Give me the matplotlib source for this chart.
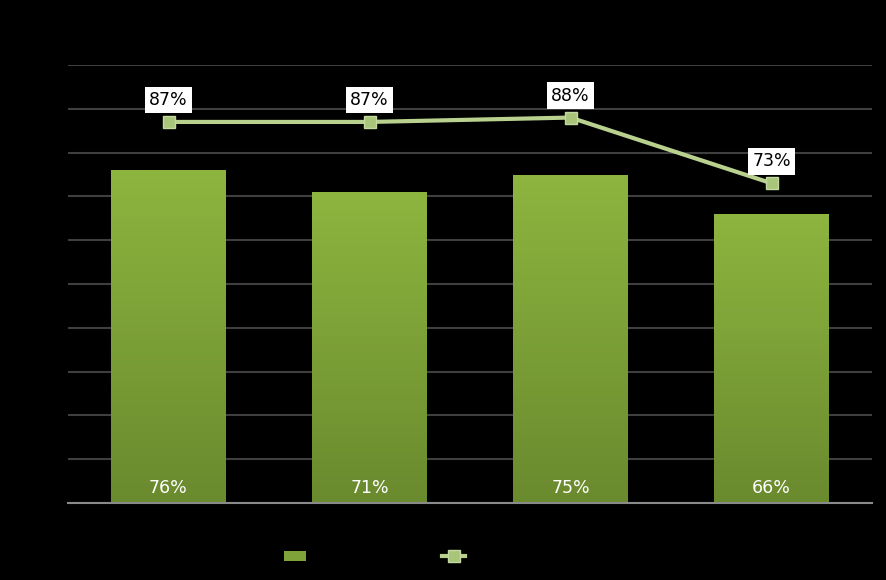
import matplotlib.pyplot as plt
import matplotlib.colors as mcolors
import numpy as np

categories = ["A", "B", "C", "D"]
bar_values = [0.76, 0.71, 0.75, 0.66]
line_values = [0.87, 0.87, 0.88, 0.73]
bar_labels = ["76%", "71%", "75%", "66%"]
line_labels = ["87%", "87%", "88%", "73%"]

fig = plt.figure(figsize=(8.86, 5.8), dpi=100, facecolor="black")
ax = fig.add_axes([68 / 886, 77 / 580, (872 - 68) / 886, (503 - 65) / 580])
ax.set_facecolor("black")

x = np.arange(len(categories))
bars = ax.bar(x, bar_values, width=0.57, color="#7fa338", zorder=2)

# vertical gradient, lighter at the top
cmap = mcolors.LinearSegmentedColormap.from_list("g", ["#6a8a2e", "#8db53f"])
grad = np.linspace(0, 1, 256).reshape(-1, 1)
for b in bars:
    bx, by = b.get_x(), b.get_y()
    im = ax.imshow(grad, cmap=cmap, aspect="auto", origin="lower",
                   extent=[bx, bx + b.get_width(), by, by + b.get_height()], zorder=2.5)
    im.set_clip_path(b)

ax.plot(x, line_values, color="#b9d18e", lw=3, marker="s", ms=9,
        markerfacecolor="#a8c57a", markeredgecolor="#c4d9a0", zorder=4)

for xi, lab in zip(x, bar_labels):
    ax.text(xi, 0.035, lab, ha="center", va="center", color="white", fontsize=12.5, zorder=5)

for xi, v, lab in zip(x, line_values, line_labels):
    ax.text(xi, v + 0.05, lab, ha="center", va="center", color="black", fontsize=12.5, zorder=5,
            bbox=dict(boxstyle="square,pad=0.25", fc="white", ec="none"))

ax.set_xlim(-0.5, 3.5)
ax.set_ylim(0, 1.0)
ax.set_yticks(np.arange(0, 1.01, 0.1))
ax.yaxis.grid(True, color="#3f3f3f", lw=1.5, zorder=0)
ax.set_axisbelow(True)
ax.tick_params(left=False, bottom=False, labelleft=False, labelbottom=False)
for s in ["top", "right", "left"]:
    ax.spines[s].set_visible(False)
ax.spines["bottom"].set_color("#8a8a8a")
ax.spines["bottom"].set_linewidth(1.5)

h1 = plt.Rectangle((0, 0), 1, 1, fc="#7fa338")
h2 = plt.Line2D([], [], color="#b9d18e", lw=3, marker="s", ms=9,
                markerfacecolor="#a8c57a", markeredgecolor="#c4d9a0")
fig.legend([h1, h2], [" ", " "], loc="center", bbox_to_anchor=(382 / 886, 1 - 557 / 580),
           ncol=2, frameon=False, columnspacing=8.7, handlelength=1.6, labelcolor="black")

fig.savefig("out.png", dpi=100, facecolor="black")
